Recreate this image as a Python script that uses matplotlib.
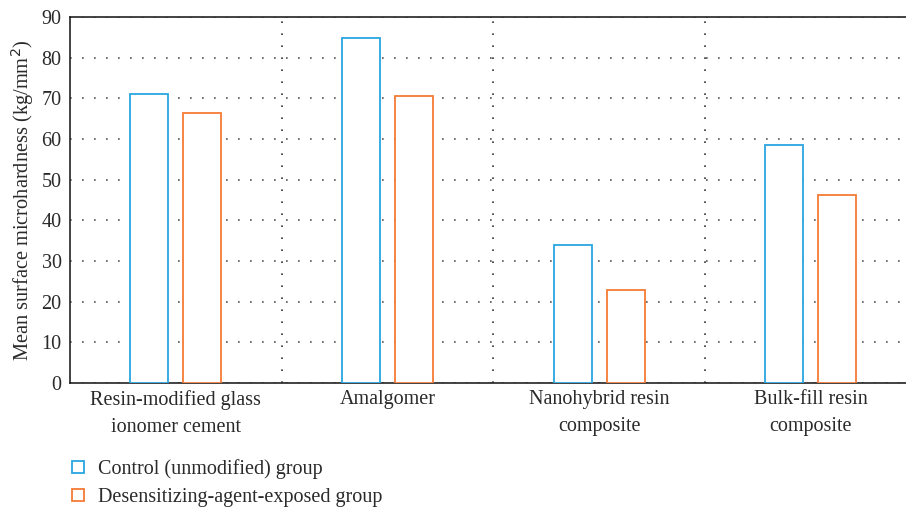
import numpy as np
import matplotlib
matplotlib.use("Agg")
import matplotlib.pyplot as plt
from matplotlib.lines import Line2D

plt.rcParams['font.family'] = ['Liberation Serif', 'DejaVu Serif']

categories = ["Resin-modified glass\nionomer cement", "Amalgomer",
              "Nanohybrid resin\ncomposite", "Bulk-fill resin\ncomposite"]
control = [71.1, 84.8, 33.9, 58.5]
exposed = [66.4, 70.6, 22.9, 46.2]
series_names = ["Control (unmodified) group", "Desensitizing-agent-exposed group"]
yticks = [0, 10, 20, 30, 40, 50, 60, 70, 80, 90]

blue = "#29a6e0"
orange = "#f47b35"
txt = "#2a2a2a"

fig = plt.figure(figsize=(9.06, 5.09), dpi=100)
ax = fig.add_axes([0.0773, 0.2475, 0.9227, 0.7191])

x = np.arange(len(categories))
w = 0.18
ax.bar(x - 0.125, control, w, facecolor="white", edgecolor=blue, linewidth=1.3, zorder=3)
ax.bar(x + 0.125, exposed, w, facecolor="white", edgecolor=orange, linewidth=1.3, zorder=3)

ax.set_xlim(-0.5, 3.45)
ax.set_ylim(0, 90)
ax.set_yticks(yticks)
ax.set_xticks(x)
ax.set_xticklabels(categories, fontsize=14.5, color=txt, linespacing=1.55)
ax.tick_params(axis="y", labelsize=14.5, length=0, pad=6, labelcolor=txt)
ax.tick_params(axis="x", length=0, pad=5)

dots = (0, (1, 6.2))
ax.yaxis.grid(True, linestyle=dots, color="#555555", linewidth=1.2, zorder=0)
for b in [0.5, 1.5, 2.5]:
    ax.axvline(b, linestyle=dots, color="#333333", linewidth=1.2, zorder=0)

for s in ["left", "bottom", "top"]:
    ax.spines[s].set_color("#222222")
    ax.spines[s].set_linewidth(1.2)
ax.spines["right"].set_visible(False)

ax.set_ylabel("Mean surface microhardness (kg/mm$^2$)", fontsize=14.7, color=txt, labelpad=4)

handles = [Line2D([], [], marker="s", linestyle="none", markersize=8,
                  markerfacecolor="white", markeredgecolor=c, markeredgewidth=1.3)
           for c in [blue, orange]]
fig.legend(handles, series_names, loc="upper left", bbox_to_anchor=(0.066, 0.113),
           frameon=False, fontsize=14.5, handletextpad=0.5, labelspacing=0.4,
           handlelength=1.0, borderaxespad=0, labelcolor=txt)

fig.savefig("out.png", dpi=100)
